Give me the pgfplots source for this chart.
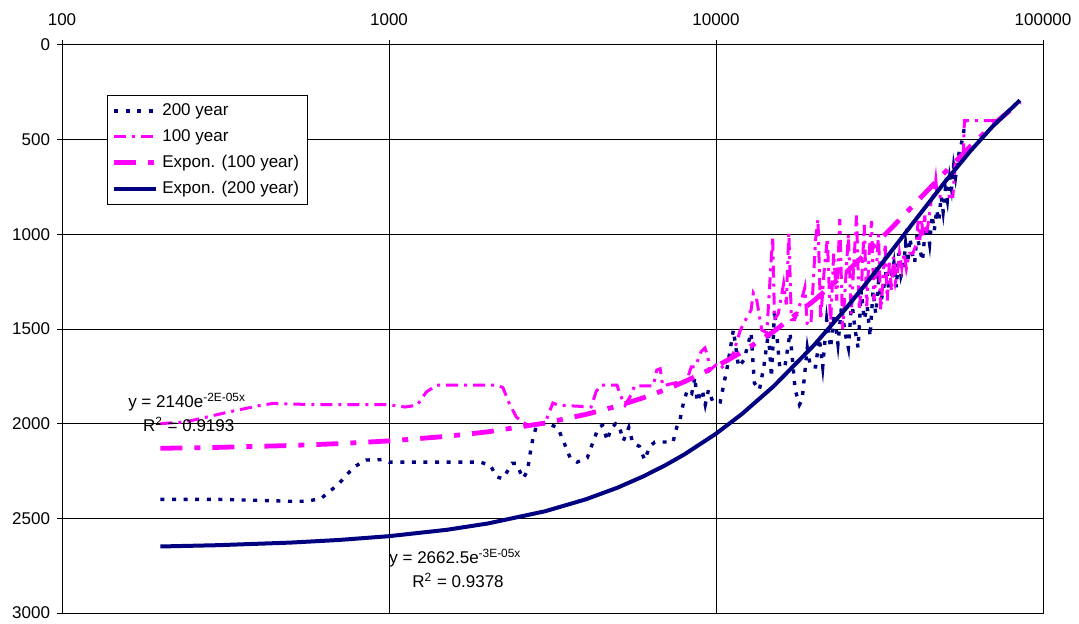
\documentclass[border=0pt]{standalone}
\usepackage{fontspec}
\setmainfont{Liberation Sans}
\usepackage{pgfplots}
\pgfplotsset{compat=1.18}
\definecolor{xlnavy}{RGB}{0,0,128}
\definecolor{xlmag}{RGB}{255,0,255}

% 200-year series
\pgfplotstableread{
x y
200 2400
300 2400
400 2405
500 2410
560 2410
620 2395
700 2320
780 2230
850 2192
950 2190
1000 2203
1200 2203
1500 2203
1900 2203
2040 2220
2140 2282
2230 2290
2380 2210
2450 2210
2570 2290
2650 2250
2700 2160
2760 2070
2840 2000
3050 2000
3280 2020
3430 2100
3580 2180
3760 2203
4040 2180
4220 2090
4370 2020
4500 2008
4650 2090
4760 2030
4930 2000
5050 2010
5210 2090
5410 2020
5560 2100
5830 2120
6050 2192
6270 2120
6500 2097
7390 2097
7580 2020
7760 1981
7950 1891
8170 1822
8430 1840
8620 1754
8750 1885
9080 1822
9270 1900
9480 1822
9780 1885
10000 1880
10300 1885
10830 1700
11300 1505
11720 1700
12170 1664
12800 1520
13100 1785
13570 1822
14000 1700
14460 1520
14780 1754
15100 1400
15660 1700
16240 1700
16840 1520
17460 1822
18000 1900
18330 1875
19020 1600
19450 1700
20160 1700
20700 1550
21200 1700
21800 1450
22400 1600
23000 1420
23600 1580
24200 1380
24800 1520
25400 1600
26000 1350
26600 1500
27200 1600
27800 1300
28400 1450
29000 1380
29600 1540
30200 1300
30800 1420
31400 1250
32000 1350
32600 1280
33200 1180
33800 1300
34400 1220
35000 1150
35600 1280
36200 1100
36800 1220
37400 1180
38000 1050
38600 1150
39200 1020
39800 1100
40500 1150
41200 1000
42000 1080
42800 1140
43500 1000
44200 960
45000 1050
45800 900
46500 980
47300 870
48000 930
48800 800
49500 880
50300 760
51000 820
51800 700
52500 760
53300 640
54000 700
54800 620
55500 560
56300 520
57000 480
57800 400
58500 400
}\twohundred

% 100-year series
\pgfplotstableread{
x y
200 2000
240 1990
320 1940
400 1905
442 1893
600 1900
800 1900
1000 1900
1120 1912
1220 1902
1300 1833
1400 1796
1500 1796
2000 1796
2140 1796
2230 1810
2330 1891
2450 1965
2650 2008
2800 2008
3000 1997
3170 1891
3300 1902
4150 1912
4300 1830
4440 1796
4980 1796
5100 1850
5270 1902
5450 1860
5640 1800
6430 1800
6590 1717
6750 1710
6870 1800
8150 1770
8400 1700
8640 1700
9000 1620
9250 1600
9420 1640
9580 1717
10000 1690
10300 1710
10800 1680
11300 1627
11870 1505
12300 1453
12800 1400
13000 1310
13300 1340
13800 1505
14300 1520
14900 1014
15100 1450
15500 1420
16100 1260
16400 1370
16700 993
17000 1450
17400 1450
18300 1340
18700 1280
19000 1470
19500 1480
20160 1030
20500 920
20900 1450
21400 1200
21900 1020
22400 1480
22900 1100
23400 1350
23900 920
24400 1500
24900 1250
25400 1000
25900 1420
26400 1150
26900 900
27400 1400
27900 1250
28400 950
28900 1380
29400 1100
29900 930
30400 1350
30900 1200
31400 1000
31900 1400
32400 1250
32900 1050
33400 1350
33900 1150
34400 1300
34900 1120
35400 1250
35900 1200
36400 1100
37000 1180
37600 1100
38200 1180
39000 1100
40000 1100
41000 1050
41500 930
42000 1030
42500 920
43000 1010
43500 900
44000 1000
44500 950
45500 820
46500 780
47000 713
47500 800
50000 800
53000 800
54000 600
57000 600
57500 400
74000 400
}\onehundred

% exponential trend lines, tabulated
\pgfplotstableread{
x y
200 2130.1
300 2125.2
500 2115.4
700 2105.7
1000 2091.1
1500 2067.1
2000 2043.4
3000 1996.7
4000 1951.1
5000 1906.6
6000 1863.0
7000 1820.5
8000 1778.9
10000 1698.6
12000 1621.9
15000 1513.3
20000 1348.2
25000 1201.1
30000 1070.1
35000 953.4
40000 849.4
50000 674.2
60000 535.2
70000 424.8
85000 300.4
}\trendhundred

\pgfplotstableread{
x y
200 2648.7
300 2641.8
500 2628.1
700 2614.5
1000 2594.2
1500 2560.7
2000 2527.6
3000 2462.7
4000 2399.5
5000 2337.9
6000 2277.9
7000 2219.5
8000 2162.5
10000 2052.9
12000 1948.9
15000 1802.7
20000 1582.9
25000 1390.0
30000 1220.5
35000 1071.7
40000 941.1
50000 725.6
60000 559.5
70000 431.4
85000 292.1
}\trendtwohundred

\begin{document}
\begin{tikzpicture}
\useasboundingbox (-31pt,-5.5pt) rectangle (508.5pt,306.5pt);
\begin{axis}[
  at={(0,0)}, anchor=south west,
  scale only axis, width=490.5pt, height=284pt,
  xmode=log, xmin=100, xmax=100000,
  ymin=0, ymax=3000, y dir=reverse,
  xtick={100,1000,10000,100000},
  xticklabels={100,1000,10000,100000},
  xminorticks=false,
  ytick={0,500,1000,1500,2000,2500,3000},
  yticklabels={0,500,1000,1500,2000,2500,3000},
  xtick pos=right, xticklabel pos=right,
  ytick pos=left,
  grid=major,
  grid style={black, line width=0.5pt},
  axis line style={black, line width=0.5pt},
  tick style={black, line width=0.5pt},
  tick align=outside, major tick length=2.5pt,
  ticklabel style={font=\fontsize{8.5}{10}\selectfont},
  xticklabel style={yshift=3.5pt},
  legend image code/.code={\draw[#1] (0pt,0pt) -- (21pt,0pt);},
  legend style={at={(0.0459,0.912)}, anchor=north west,
    draw=black, line width=0.5pt,
    font=\fontsize{8.5}{10}\selectfont,
    inner xsep=2pt, inner ysep=2pt, row sep=1.5pt,
    cells={anchor=west}},
]
\addplot[xlnavy, line width=1.7pt, line cap=butt, dash pattern=on 2pt off 3.8pt]
  table[x=x, y=y] {\twohundred};
\addlegendentry{200 year}
\addplot[xlmag, line width=1.5pt, line cap=butt, dash pattern=on 6pt off 3pt on 1.5pt off 3pt]
  table[x=x, y=y] {\onehundred};
\addlegendentry{100 year}
\addplot[xlmag, line width=2.4pt, line cap=butt, dash pattern=on 11pt off 6pt on 3pt off 6pt]
  table[x=x, y=y] {\trendhundred};
\addlegendentry{Expon. (100 year)}
\addplot[xlnavy, line width=2pt]
  table[x=x, y=y] {\trendtwohundred};
\addlegendentry{Expon. (200 year)}

\node[anchor=base west, font=\fontsize{8.5}{10}\selectfont, inner sep=0pt]
  at (axis cs:159,1912) {y = 2140e\textsuperscript{-2E-05x}};
\node[anchor=base west, font=\fontsize{8.5}{10}\selectfont, inner sep=0pt]
  at (axis cs:176.5,2039) {R\textsuperscript{2} = 0.9193};
\node[anchor=base west, font=\fontsize{8.5}{10}\selectfont, inner sep=0pt]
  at (axis cs:1000,2736) {y = 2662.5e\textsuperscript{-3E-05x}};
\node[anchor=base west, font=\fontsize{8.5}{10}\selectfont, inner sep=0pt]
  at (axis cs:1176,2863) {R\textsuperscript{2} = 0.9378};
\end{axis}
\end{tikzpicture}
\end{document}
